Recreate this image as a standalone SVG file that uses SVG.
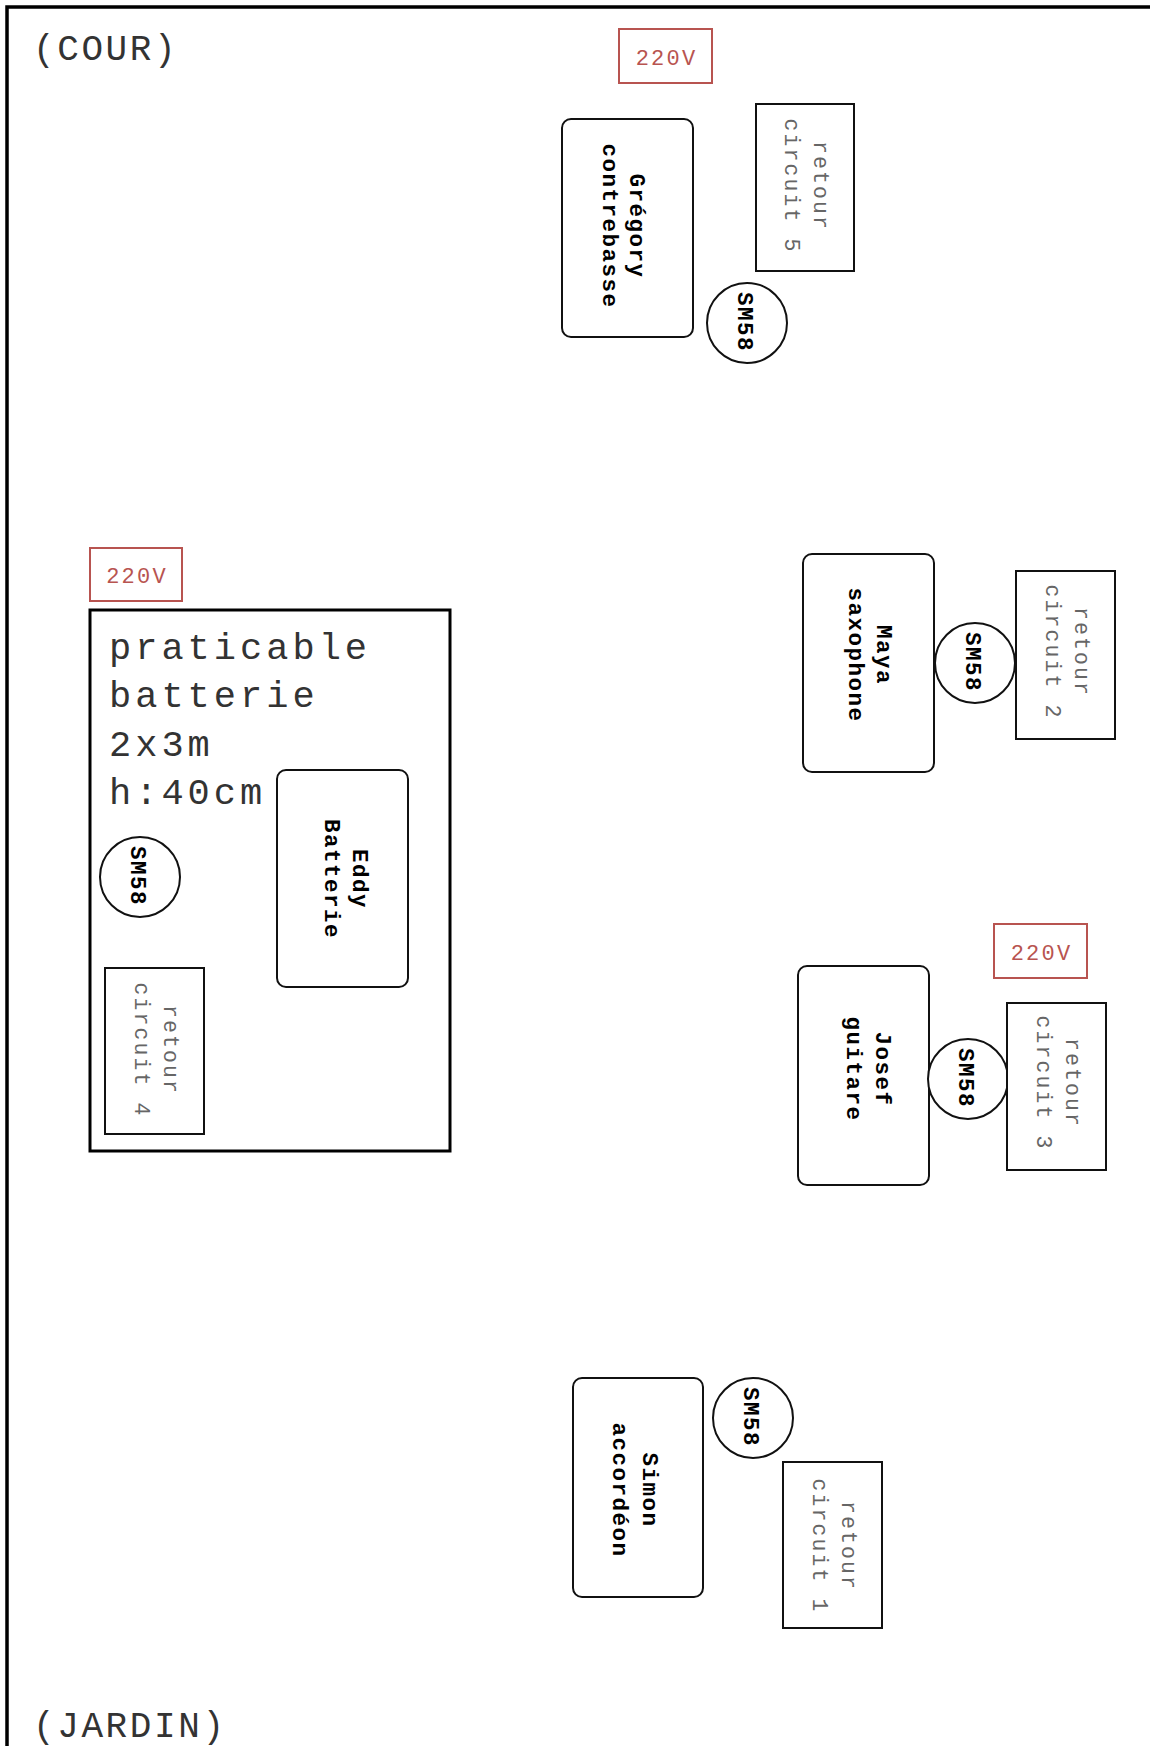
<svg xmlns="http://www.w3.org/2000/svg" width="1150" height="1746" viewBox="0 0 1150 1746">
<style>
.frame{fill:#fff;stroke:#000;stroke-width:3.5}
.stage{fill:none;stroke:#000;stroke-width:3}
.person{fill:#fff;stroke:#111;stroke-width:2}
.ret{fill:#fff;stroke:#111;stroke-width:2}
.mic{fill:#fff;stroke:#111;stroke-width:2}
.pw{fill:#fff;stroke:#b85450;stroke-width:2}
.big{font-family:"Liberation Mono",monospace;font-size:36px;letter-spacing:2.6px;fill:#333}
.prat{font-family:"Liberation Mono",monospace;font-size:37px;letter-spacing:4px;fill:#333}
.name{font-family:"Liberation Mono",monospace;font-size:22.5px;letter-spacing:1.5px;font-weight:bold;fill:#000;text-anchor:middle}
.rt{font-family:"Liberation Mono",monospace;font-size:21.5px;letter-spacing:2.1px;fill:#666;text-anchor:middle}
.pwt{font-family:"Liberation Mono",monospace;font-size:22px;letter-spacing:2.2px;fill:#b85450;text-anchor:middle}
</style>
<rect x="0" y="0" width="1150" height="1746" fill="#fff"/>
<rect class="frame" x="7" y="7" width="1200" height="1800"/>
<g id="labels">
<text class="big" x="33" y="60">(COUR)</text>
<text class="big" x="33" y="1737">(JARDIN)</text>
</g>
<g id="connectors"></g>
<g id="praticable">
<rect class="stage" x="90" y="610" width="360" height="541"/>
<text class="prat" x="109"><tspan x="109" y="659">praticable</tspan><tspan x="109" y="707">batterie</tspan><tspan x="109" y="756">2x3m</tspan><tspan x="109" y="804">h:40cm</tspan></text>
</g>
<g id="power-top">
<rect class="pw" x="619" y="29" width="93" height="54"/>
<text class="pwt" x="666.5" y="65">220V</text>
</g>
<g id="power-left">
<rect class="pw" x="90" y="548" width="92" height="53"/>
<text class="pwt" x="137" y="583">220V</text>
</g>
<g id="power-right">
<rect class="pw" x="994" y="924" width="93" height="54"/>
<text class="pwt" x="1041.5" y="960">220V</text>
</g>
<g id="gregory">
<rect class="person" x="562" y="119" width="131" height="218" rx="9"/>
<text class="name" transform="translate(627.5,226) rotate(90)"><tspan x="0" y="-2.5">Grégory</tspan><tspan x="0" y="24.5">contrebasse</tspan></text>
</g>
<g id="retour5">
<rect class="ret" x="756" y="104" width="98" height="167"/>
<text class="rt" transform="translate(805,186) rotate(90)"><tspan x="0" y="-9">retour</tspan><tspan x="0" y="20">circuit 5</tspan></text>
</g>
<g id="mic-gregory">
<circle class="mic" cx="747" cy="323" r="40"/>
<text class="name" transform="translate(747,322) rotate(90)" x="0" y="9">SM58</text>
</g>
<g id="maya">
<rect class="person" x="803" y="554" width="131" height="218" rx="9"/>
<text class="name" transform="translate(868.5,655) rotate(90)"><tspan x="0" y="-8.5">Maya</tspan><tspan x="0" y="19.5">saxophone</tspan></text>
</g>
<g id="mic-maya">
<circle class="mic" cx="975" cy="663" r="40"/>
<text class="name" transform="translate(975,662) rotate(90)" x="0" y="9">SM58</text>
</g>
<g id="retour2">
<rect class="ret" x="1016" y="571" width="99" height="168"/>
<text class="rt" transform="translate(1065.5,652) rotate(90)"><tspan x="0" y="-9.5">retour</tspan><tspan x="0" y="19.5">circuit 2</tspan></text>
</g>
<g id="josef">
<rect class="person" x="798" y="966" width="131" height="219" rx="9"/>
<text class="name" transform="translate(863.5,1069) rotate(90)"><tspan x="0" y="-12.5">Josef</tspan><tspan x="0" y="16.5">guitare</tspan></text>
</g>
<g id="mic-josef">
<circle class="mic" cx="968" cy="1079" r="40"/>
<text class="name" transform="translate(968,1078) rotate(90)" x="0" y="9">SM58</text>
</g>
<g id="retour3">
<rect class="ret" x="1007" y="1003" width="99" height="167"/>
<text class="rt" transform="translate(1056.5,1083) rotate(90)"><tspan x="0" y="-9.5">retour</tspan><tspan x="0" y="19.5">circuit 3</tspan></text>
</g>
<g id="simon">
<rect class="person" x="573" y="1378" width="130" height="219" rx="9"/>
<text class="name" transform="translate(638,1490) rotate(90)"><tspan x="0" y="-5">Simon</tspan><tspan x="0" y="25">accordéon</tspan></text>
</g>
<g id="mic-simon">
<circle class="mic" cx="753" cy="1418" r="40"/>
<text class="name" transform="translate(753,1417) rotate(90)" x="0" y="9">SM58</text>
</g>
<g id="retour1">
<rect class="ret" x="783" y="1462" width="99" height="166"/>
<text class="rt" transform="translate(832.5,1546) rotate(90)"><tspan x="0" y="-9.5">retour</tspan><tspan x="0" y="19.5">circuit 1</tspan></text>
</g>
<g id="eddy">
<rect class="person" x="277" y="770" width="131" height="217" rx="9"/>
<text class="name" transform="translate(342.5,879) rotate(90)"><tspan x="0" y="-10">Eddy</tspan><tspan x="0" y="17.5">Batterie</tspan></text>
</g>
<g id="mic-eddy">
<circle class="mic" cx="140" cy="877" r="40"/>
<text class="name" transform="translate(140,876) rotate(90)" x="0" y="9">SM58</text>
</g>
<g id="retour4">
<rect class="ret" x="105" y="968" width="99" height="166"/>
<text class="rt" transform="translate(154.5,1050) rotate(90)"><tspan x="0" y="-9.5">retour</tspan><tspan x="0" y="19.5">circuit 4</tspan></text>
</g>
</svg>
